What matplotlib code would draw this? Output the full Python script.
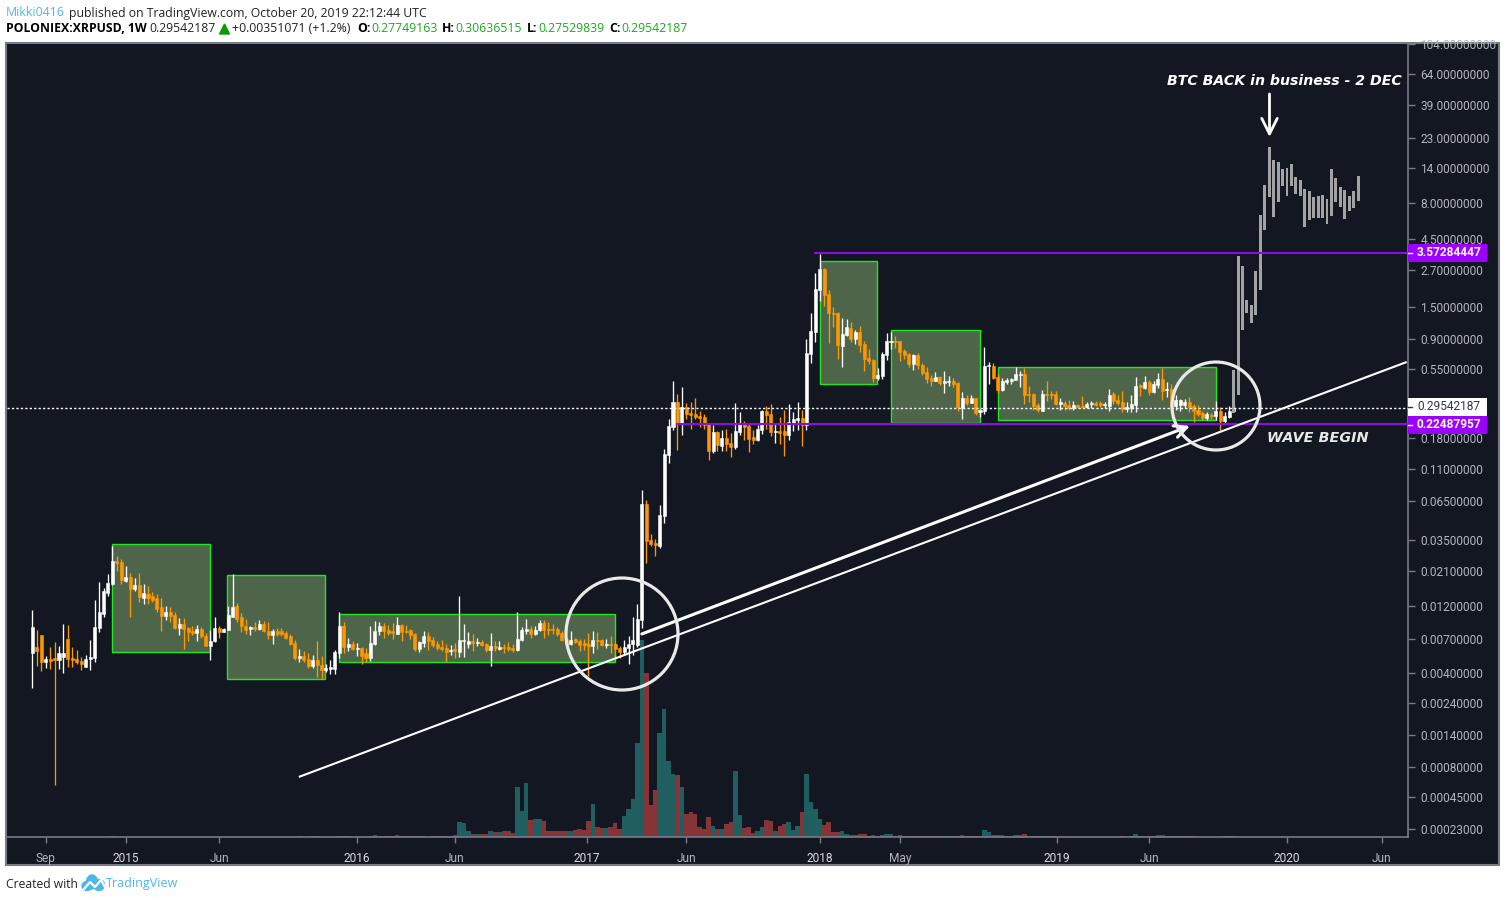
import numpy as np
import matplotlib
matplotlib.use("Agg")
import matplotlib.pyplot as plt
from matplotlib.patches import Rectangle, Circle, Ellipse, Polygon

# weekly XRPUSD candles
opens = [
    .00555, .0061, .0075, .0048, .0050, .0051, .0049, .0052, .0070, .0051,
    .0050, .00486, .0044, .0050, .0051, .0084, .0105, .0148, .0170, .0248,
    .0244, .0179, .0190, .0157, .0167, .0137, .0146, .0141, .0135, .0118,
    .0102, .0108, .0103, .0084, .0089, .0084, .0080, .0077, .0082, .0073,
    .0062, .0068, .0084, .0078, .0081, .0100, .0120, .0100, .0086, .0082,
    .0085, .0082, .0089, .0080, .0075, .0080, .0080, .0077, .0073, .0065,
    .0051, .0053, .0050, .0045, .0049, .00455, .0042, .00426, .00426, .00555,
    .0086, .0061, .0064, .0059, .0060, .0055, .0051, .0064, .0080, .0086,
    .0081, .0080, .0076, .0088, .0080, .0081, .0076, .0059, .0065, .0073,
    .0069, .0064, .0061, .0060, .0057, .0059, .0056, .0068, .0064, .0068,
    .0065, .0066, .0064, .0058, .0062, .0059, .0061, .0061, .0060, .0058,
    .0069, .0080, .0082, .0076, .0081, .0091, .0082, .0082, .0082, .0077,
    .0070, .0064, .0070, .0068, .0065, .0064, .0062, .0069, .0069, .0063,
    .0064, .0064, .0060, .0056, .0060, .0064, .0063, .0095, .0624, .0348,
    .0331, .0316, .0514, .137, .216, .324, .227, .299, .271, .267,
    .258, .254, .227, .146, .199, .159, .181, .167, .156, .199,
    .231, .220, .184, .175, .206, .280, .267, .199, .203, .203,
    .190, .231, .242, .250, .223, .701, 1.00, 1.97, 2.76, 1.85,
    1.36, 1.36, .798, .953, 1.07, .893, 1.00, .824, .657, .637,
    .476, .492, .690, .851, .865, .865, .736, .701, .597, .690,
    .587, .525, .476, .454, .484, .439, .446, .454, .439, .294,
    .345, .318, .345, .275, .280, .578, .578, .484, .393, .446,
    .454, .461, .500, .508, .368, .368, .308, .280, .368, .368,
    .368, .313, .318, .308, .294, .308, .303, .299, .313, .318,
    .318, .308, .303, .368, .334, .324, .289, .294, .308, .425,
    .405, .446, .380, .425, .469, .393, .399, .303, .308, .308,
    .324, .303, .284, .271, .250, .262, .258, .280, .238, .254,
    .27749163]
highs = [
    .0112, .0081, .0075, .0053, .0061, .0066, .0062, .0089, .0088, .0061,
    .0058, .0052, .0054, .0069, .0132, .0176, .0159, .0200, .0317, .0269,
    .0256, .0228, .0204, .0187, .0204, .0170, .0164, .0150, .0144, .0135,
    .0120, .0118, .0108, .0098, .0098, .0085, .0086, .0088, .0085, .0077,
    .0081, .0100, .0086, .0084, .0120, .0200, .0126, .0107, .0097, .0086,
    .0092, .0095, .0094, .0092, .0082, .0084, .0084, .0080, .0076, .0069,
    .0059, .0057, .0055, .0054, .0068, .0053, .0046, .0049, .0058, .0108,
    .0092, .0071, .0068, .0065, .0061, .0060, .0086, .0094, .0092, .0091,
    .0088, .0091, .0100, .0089, .0088, .0082, .0077, .0068, .0080, .0078,
    .0072, .0068, .0069, .0064, .0063, .0065, .0141, .0089, .0078, .0076,
    .0071, .0069, .0065, .0077, .0068, .0068, .0064, .0066, .0064, .0108,
    .0085, .0097, .0086, .0086, .0095, .0095, .0092, .0089, .0085, .0080,
    .0071, .0080, .0071, .0070, .0070, .0077, .0080, .0078, .0070, .0070,
    .0073, .0066, .0062, .0069, .0073, .0100, .0124, .0782, .0666, .0385,
    .0355, .0614, .1515, .246, .454, .368, .412, .318, .324, .345,
    .280, .267, .231, .223, .203, .206, .209, .196, .318, .275,
    .238, .227, .206, .223, .284, .303, .313, .227, .254, .284,
    .313, .275, .324, .284, .893, 1.36, 2.59, 3.52, 2.81, 1.97,
    1.50, 1.38, 1.25, 1.23, 1.17, 1.03, 1.10, .865, .760, .647,
    .560, .724, .984, 1.00, .937, .865, .760, .713, .701, .713,
    .606, .569, .500, .525, .492, .533, .492, .476, .446, .380,
    .362, .362, .345, .289, .785, .616, .606, .508, .476, .476,
    .476, .569, .533, .560, .419, .374, .318, .393, .454, .386,
    .386, .345, .329, .334, .329, .313, .357, .324, .329, .329,
    .329, .324, .399, .380, .362, .386, .324, .362, .484, .432,
    .492, .461, .454, .516, .560, .446, .432, .362, .340, .340,
    .351, .313, .308, .280, .275, .271, .329, .299, .275, .303,
    .30636515]
lows = [
    .0031, .0045, .0041, .0043, .00426, .00057, .00426, .0040, .0044, .0044,
    .0046, .0042, .0044, .0042, .0048, .0078, .0100, .0141, .0167, .0211,
    .0170, .0176, .0100, .0153, .0128, .0124, .0124, .0128, .0108, .0080,
    .0095, .0092, .0082, .0075, .0059, .0068, .0075, .0068, .0071, .0062,
    .0049, .0066, .0071, .0078, .0081, .0100, .0092, .0078, .0076, .0075,
    .0080, .0081, .0078, .0070, .0064, .0073, .0073, .0070, .0063, .0049,
    .0048, .0048, .0043, .0043, .00373, .0036, .00405, .0039, .0039, .0051,
    .0055, .0057, .0058, .0053, .0046, .0048, .00486, .0063, .0075, .0071,
    .0075, .0070, .0076, .0068, .0077, .0070, .0057, .0056, .0061, .0058,
    .0061, .0058, .0057, .0048, .0054, .0051, .0052, .0052, .0060, .0057,
    .0062, .0062, .0056, .0045, .0057, .0058, .00555, .0057, .0056, .0057,
    .0068, .0076, .0071, .0075, .0080, .0071, .0075, .0076, .0073, .0068,
    .0063, .0063, .0065, .0057, .0058, .0038, .0055, .0059, .0062, .0060,
    .0055, .0051, .0051, .0054, .0046, .0054, .0061, .0084, .0240, .0317,
    .0269, .0306, .0459, .121, .206, .149, .190, .246, .209, .246,
    .216, .209, .127, .142, .146, .146, .146, .133, .151, .190,
    .175, .144, .164, .172, .193, .209, .187, .167, .164, .135,
    .175, .203, .206, .159, .206, .606, .851, 1.65, 1.52, .837,
    1.08, .647, .569, .937, .851, .824, .724, .533, .597, .446,
    .461, .469, .637, .760, .773, .627, .647, .569, .542, .551,
    .500, .439, .419, .454, .425, .374, .419, .412, .280, .246,
    .308, .318, .262, .254, .267, .432, .469, .374, .386, .432,
    .432, .461, .412, .313, .324, .284, .275, .280, .329, .340,
    .308, .284, .284, .284, .284, .294, .294, .294, .294, .303,
    .299, .294, .280, .313, .308, .275, .275, .275, .275, .357,
    .399, .362, .374, .405, .334, .351, .284, .284, .280, .294,
    .275, .234, .258, .242, .242, .246, .242, .206, .231, .250,
    .27529839]
closes = [
    .0085, .0057, .0048, .0050, .00486, .0049, .0055, .0055, .0050, .0049,
    .0048, .0046, .0050, .0052, .0085, .0108, .0153, .0173, .0248, .0240,
    .0182, .0190, .0157, .0167, .0139, .0148, .0137, .0132, .0114, .0102,
    .0108, .0102, .0084, .0089, .0082, .0078, .0077, .0082, .0073, .0062,
    .0068, .0084, .0078, .0082, .0103, .0118, .0097, .0086, .0081, .0085,
    .0082, .0089, .0080, .0075, .0080, .0076, .0076, .0071, .0064, .0051,
    .0053, .0049, .0045, .0049, .00455, .0042, .0043, .0044, .0056, .0086,
    .0061, .0064, .0059, .0060, .0053, .0051, .0065, .0080, .0086, .0080,
    .0077, .0077, .0088, .0078, .0078, .0075, .0059, .0066, .0073, .0068,
    .0063, .0060, .0059, .0056, .0058, .0057, .0069, .0069, .0068, .0065,
    .0066, .0063, .0058, .0062, .0060, .0061, .0060, .0059, .0058, .0070,
    .0081, .0082, .0076, .0081, .0091, .0081, .0081, .0081, .0076, .0069,
    .0064, .0069, .0066, .0063, .0063, .0062, .0069, .0068, .0063, .0064,
    .0063, .0059, .0056, .0061, .0064, .0069, .0097, .0624, .0344, .0326,
    .0321, .0522, .139, .220, .324, .227, .299, .267, .262, .254,
    .250, .223, .146, .199, .161, .181, .164, .156, .203, .231,
    .216, .178, .175, .209, .280, .262, .199, .203, .196, .190,
    .234, .246, .250, .223, .713, 1.016, 2.00, 2.76, 1.82, 1.36,
    1.34, .811, .968, 1.08, .893, 1.00, .811, .647, .627, .476,
    .500, .701, .865, .865, .851, .724, .690, .597, .690, .587,
    .516, .469, .454, .484, .439, .454, .454, .432, .299, .345,
    .318, .345, .271, .284, .578, .587, .476, .393, .454, .461,
    .469, .508, .508, .362, .362, .303, .284, .368, .362, .362,
    .313, .324, .303, .294, .308, .299, .299, .313, .318, .308,
    .308, .313, .362, .329, .318, .289, .299, .313, .419, .412,
    .446, .380, .432, .469, .386, .399, .303, .334, .334, .324,
    .299, .280, .267, .250, .267, .258, .280, .238, .258, .280,
    .29542187]

# relative volume, no scale is shown on the chart
volume = [
    .2, .2, .2, .2, .2, .2, .2, .2, .2, .2,
    .2, .2, .2, .2, .2, .2, .2, .2, 1.2, .2,
    .1, .1, .1, .1, .1, .1, .1, .1, .1, .1,
    .1, .1, .1, .1, .1, .1, .1, .1, .1, .1,
    .1, .1, .1, .1, .1, .1, .1, .1, .1, .1,
    .1, .1, .1, .1, .1, .1, .1, .1, .1, .1,
    .8, .1, .1, .6, .8, .2, .2, .2, .2, 1.5,
    1.5, .8, .3, .3, .3, .3, 1.5, 2.2, 1.5, .8,
    .8, 1.5, 2.2, 1.5, 1, 1.5, .8, .8, .8, .3,
    .8, .8, .8, .8, .8, 2.2, 15, 14, 6, 3.3,
    3.3, 2.6, 3.3, 6, 4.7, 4.7, 5.6, 6.3, 3.7, 50,
    26, 54, 17, 18.5, 18.5, 16, 6.3, 5.7, 6.3, 6.3,
    5.7, 6.3, 6.7, 7.7, 6.7, 16, 33, 10, 8.7, 9.3,
    10.3, 14.3, 8.3, 21, 28, 38, 94, 197, 164, 32,
    47, 104, 128, 76, 63, 62, 50, 23, 25, 23,
    10, 8, 20, 11, 8, 8, 13, 15, 66, 22,
    9, 10, 4, 6, 10, 17, 16, 6, 11, 13,
    15, 7, 11, 25, 63, 35, 28, 18, 12, 15,
    5, 5, 6, 3, 2, 2, 3, 3, 1, 2,
    1, 2, 3, 3, 1, 2, 1, 1, 1, 1,
    1, 1, 1, 1, 1, 1, 1, 1, 1, 2.3,
    1.3, 1, 1, 1, 7.3, 5.3, 2.3, 2.3, 2.3, 1,
    1, 2.3, 2.3, 3.3, 1.3, 1.3, 1.3, 1.3, 1.3, 1,
    1, .5, .5, .5, .5, .5, .5, .5, .5, .5,
    .5, .5, .5, .5, .5, 1, .5, 1, 3.3, 1.3,
    1, 1, 1, 2.3, 2.3, 1, 1, 1, 1, 1,
    1, 1, .5, .5, .5, .5, .5, .5, 1, 1,
    1]

# grey projected bars, pasted fractal
ghost_high = [.542, 3.41, 2.90, 1.68, 1.55, 2.67, 6.60, 10.7, 19.8, 16.0,
              15.5, 13.9, 14.1, 15.0, 12.2, 11.6, 10.0, 9.72, 8.82, 8.97,
              9.12, 8.54, 13.9, 12.0, 10.4, 9.88, 8.97, 9.72, 12.4]
ghost_low = [.271, .362, 1.03, 1.36, 1.16, 1.32, 1.97, 5.18, 8.82, 6.39,
             8.14, 10.5, 8.97, 10.5, 9.26, 8.97, 5.44, 6.09, 6.29, 6.29,
             6.29, 5.71, 6.49, 8.14, 7.51, 6.19, 7.04, 7.39, 8.27]

# green boxes: first week, last week, top price, bottom price
box_start = [18.0, 43.8, 69.0, 177.0, 193.0, 217.0]
box_end = [40.0, 65.8, 131.0, 189.9, 213.0, 266.0]
box_top = [.0327, .01986, .01049, 3.13, 1.028, .566]
box_bottom = [.00564, .00359, .00478, .430, .2294, .2407]

price_ticks = [104, 64, 39, 23, 14, 8, 4.5, 2.7, 1.5, .9, .55, .18, .11, .065,
               .035, .021, .012, .007, .004, .0024, .0014, .0008, .00045, .00023]
time_ticks = [3, 21, 42, 73, 95, 124.6, 147, 177, 195, 230.3, 251, 282, 303.3]
time_labels = ["Sep", "2015", "Jun", "2016", "Jun", "2017", "Jun", "2018",
               "May", "2019", "Jun", "2020", "Jun"]

last_price = 0.29542187
resistance = 3.57284447
support = 0.22487957

BG = "#131722"
GRID = "#787b86"
TXT = "#b2b5be"
UP = "#ffffff"
DOWN = "#ff9800"
GREEN = "#1fe81f"
PURPLE = "#9c00ff"
HEAD_FONT = "Open Sans"


def to_axis(p):
    return np.log(np.asarray(p) + 1e-4)


def from_axis(v):
    return np.exp(v) - 1e-4


def pixel_axes(z):
    a = fig.add_axes([0, 0, 1, 1], zorder=z)
    a.set_xlim(0, 1506)
    a.set_ylim(902, 0)
    a.axis("off")
    a.patch.set_visible(False)
    return a


fig = plt.figure(figsize=(15.06, 9.02), dpi=100, facecolor="white")

back = pixel_axes(0)
back.add_patch(Rectangle((6, 43), 1493, 822, facecolor=BG, edgecolor=GRID, lw=1.5))

rect = [7 / 1506, (902 - 837) / 902, 1401 / 1506, 793 / 902]
x0, x1 = -5.69, 309.2

# volume sits under the price bars
vol_ax = fig.add_axes(rect, zorder=1)
vol_ax.patch.set_visible(False)
vol_ax.axis("off")
vol_ax.set_xlim(x0, x1)
vol_ax.set_ylim(0, 793)

ax = fig.add_axes(rect, zorder=2)
ax.patch.set_visible(False)
ax.set_yscale("function", functions=(to_axis, from_axis))
ax.set_xlim(x0, x1)
ax.set_ylim(0.00019, 104.1)

weeks = np.arange(len(closes))
opens = np.array(opens)
closes = np.array(closes)
highs = np.array(highs)
lows = np.array(lows)
rising = closes >= opens

vol_colors = ["#1f5f5f" if r else "#853538" for r in rising]
vol_ax.bar(weeks, volume, width=1.0, color=vol_colors, linewidth=0)

for s, e, t, b in zip(box_start, box_end, box_top, box_bottom):
    ax.add_patch(Rectangle((s, b), e - s, t - b, facecolor="#4f6549",
                           edgecolor=GREEN, lw=1.0, zorder=1))

candle_colors = [UP if r else DOWN for r in rising]
ax.vlines(weeks, lows, highs, colors=candle_colors, lw=0.95, zorder=3, snap=True)
body_low = np.minimum(opens, closes)
body_high = np.maximum(opens, closes)
ax.bar(weeks, body_high - body_low, bottom=body_low, width=0.68,
       color=candle_colors, edgecolor=candle_colors, linewidth=0.4, zorder=3)

ghost_weeks = 270 + np.arange(len(ghost_high))
ghost_high = np.array(ghost_high)
ghost_low = np.array(ghost_low)
ax.bar(ghost_weeks, ghost_high - ghost_low, bottom=ghost_low, width=0.66,
       color="#a3a3a6", linewidth=0, zorder=4)

ax.hlines(last_price, x0, x1, colors="white", lw=1, linestyles=(0, (1.6, 1.6)), zorder=4)
ax.hlines(resistance, 175.7, x1, colors="#8a0fdc", lw=1.5, zorder=4)
ax.hlines(support, 144.6, x1, colors="#8a0fdc", lw=1.5, zorder=4)

# trend lines
ax.plot([59.9, 308.9], [.000664, .616], color="white", lw=1.5, zorder=5,
        solid_capstyle="butt")
ax.annotate("", xy=(260.2, .2196), xytext=(137, .00757), zorder=5,
            arrowprops=dict(arrowstyle="->", color="white", lw=2.2,
                            mutation_scale=22, shrinkA=0, shrinkB=0))

ax.yaxis.tick_right()
ax.set_yticks(price_ticks)
ax.set_yticklabels([f"{p:.8f}" for p in price_ticks])
ax.minorticks_off()
ax.set_xticks(time_ticks)
ax.set_xticklabels(time_labels)
ax.tick_params(axis="y", colors=GRID, labelcolor=TXT, length=5, width=1, pad=4,
               labelsize=8.6)
ax.tick_params(axis="x", colors=GRID, labelcolor=TXT, length=4, width=1, pad=7,
               labelsize=8.6)
for lab in ax.get_yticklabels() + ax.get_xticklabels():
    lab.set_fontfamily("Roboto")
for lab in ax.get_xticklabels():
    if lab.get_text().isdigit():
        lab.set_color("#d8dae0")
for side in ["top", "left"]:
    ax.spines[side].set_visible(False)
for side in ["right", "bottom"]:
    ax.spines[side].set_color(GRID)
    ax.spines[side].set_linewidth(1.2)

top = pixel_axes(5)

# circles and the drawn text
top.add_patch(Circle((622, 634), 56, fill=False, edgecolor="#e9e9e9", lw=2.3))
top.add_patch(Circle((1216, 406), 44, fill=False, edgecolor="#e9e9e9", lw=2.3))
top.annotate("", xy=(1269.5, 137), xytext=(1269.5, 94),
             arrowprops=dict(arrowstyle="->", color="white", lw=2,
                             mutation_scale=28, shrinkA=0, shrinkB=0))
top.text(1402, 81, "BTC BACK in business - 2 DEC", color="white", fontsize=10.15,
         fontweight="bold", fontstyle="italic", family="DejaVu Sans",
         ha="right", va="center")
top.text(1267, 438, "WAVE BEGIN", color="#e8e8e8", fontsize=10.4,
         fontweight="bold", fontstyle="italic", family="DejaVu Sans", va="center")

# price tags on the axis
tags = [(244, PURPLE, "3.57284447", "white", "bold"),
        (416, PURPLE, "0.22487957", "white", "bold"),
        (398, "white", "0.29542187", "#333640", "normal")]
for y, col, label, tcol, weight in tags:
    top.add_patch(Rectangle((1408, y), 79, 18, facecolor=col, edgecolor="none"))
    top.plot([1408, 1412], [y + 9, y + 9], color=tcol, lw=1)
    top.text(1417, y + 9, label, color=tcol, fontsize=8.6, fontweight=weight,
             family="Roboto", va="center")

# header lines
line1 = [(6, "Mikki0416", "#4fb6e8", "normal"),
         (69, "published on TradingView.com, October 20, 2019 22:12:44 UTC", "#222222", "normal")]
line2 = [(6, "POLONIEX:XRPUSD, 1W", "black", "bold"),
         (149, "0.29542187", "#222222", "normal"),
         (232, "+0.00351071 (+1.2%)", "#222222", "normal"),
         (357, "O:", "black", "bold"), (371, "0.27749163", "#1ea81e", "normal"),
         (442, "H:", "black", "bold"), (455, "0.30636515", "#1ea81e", "normal"),
         (527, "L:", "black", "bold"), (538, "0.27529839", "#1ea81e", "normal"),
         (609, "C:", "black", "bold"), (621, "0.29542187", "#1ea81e", "normal")]
for x, s, c, w in line1:
    top.text(x, 13, s, color=c, fontweight=w, fontsize=8.8, family=HEAD_FONT, va="center")
for x, s, c, w in line2:
    top.text(x, 29, s, color=c, fontweight=w, fontsize=8.8, family=HEAD_FONT, va="center")
top.add_patch(Polygon([[219.5, 34], [229.5, 34], [224.5, 24]], color="#0c9a0c"))

# footer with the little cloud logo
top.text(6, 884, "Created with", color="#222222", fontsize=8.7, family=HEAD_FONT, va="center")
top.text(106, 884, "TradingView", color="#4fb6e8", fontsize=9, family=HEAD_FONT, va="center")
logo = "#4fb6e8"
top.add_patch(Ellipse((92, 882), 11, 14, color=logo))
top.add_patch(Ellipse((99, 885), 11, 11, color=logo))
top.add_patch(Ellipse((87, 886), 10, 9, color=logo))
top.plot([84, 90, 95, 101, 105], [889, 882, 887, 880, 887], color="white", lw=1.6)

fig.savefig("out.png", dpi=100, facecolor="white")
